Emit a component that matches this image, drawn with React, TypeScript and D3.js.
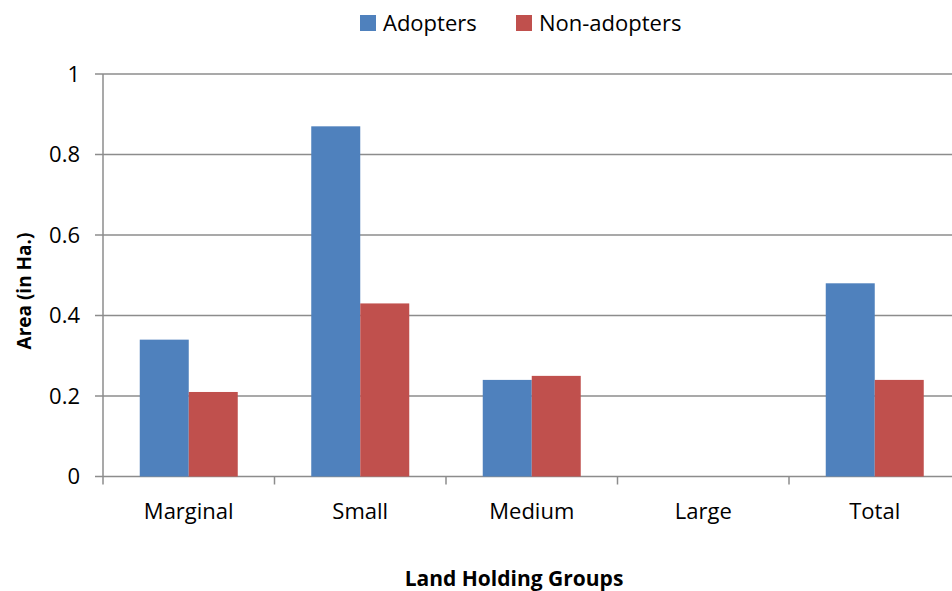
import React from "react";
import * as d3 from "d3";

const categories = ["Marginal", "Small", "Medium", "Large", "Total"];
const adopters = [0.34, 0.87, 0.24, 0, 0.48];
const nonAdopters = [0.21, 0.43, 0.25, 0, 0.24];
const yTicks = [0, 0.2, 0.4, 0.6, 0.8, 1];
const seriesNames = ["Adopters", "Non-adopters"];
const colors = ["#4F81BD", "#C0504D"];

export default function App() {
  const W = 952, H = 591;
  const left = 103, right = 960.5, top = 74, bottom = 476.5;
  const x = d3.scaleBand<string>().domain(categories).range([left, right]).paddingInner(0).paddingOuter(0);
  const y = d3.scaleLinear().domain([0, 1]).range([bottom, top]);
  const barW = 49;
  const font = "'Open Sans', sans-serif";
  const grid = "#8C8C8C";
  const series = [adopters, nonAdopters];
  return (
    <svg width={W} height={H} style={{ position: "absolute", left: 0, top: 0 }} fontFamily={font}>
      <rect width={W} height={H} fill="#fff" />
      {yTicks.map((t) => (
        <g key={t}>
          <line x1={left - 8} x2={right} y1={y(t)} y2={y(t)} stroke={grid} strokeWidth={1.5} />
          <text x={left - 23} y={y(t)} dy="0.36em" textAnchor="end" fontSize={22} fill="#000">{t}</text>
        </g>
      ))}
      <line x1={left} x2={left} y1={top} y2={bottom} stroke={grid} strokeWidth={1.5} />
      {categories.map((c, i) => {
        const cx = (x(c) as number) + x.bandwidth() / 2;
        return (
          <g key={c}>
            {series.map((s, j) => (
              <rect key={j} x={cx - barW + j * barW} width={barW} y={y(s[i])} height={bottom - y(s[i])} fill={colors[j]} />
            ))}
            <line x1={x(c) as number} x2={x(c) as number} y1={bottom} y2={bottom + 8} stroke={grid} strokeWidth={1.5} />
            <text x={cx} y={519} textAnchor="middle" fontSize={22} fill="#000">{c}</text>
          </g>
        );
      })}
      <text transform={`translate(31,291) rotate(-90)`} textAnchor="middle" fontSize={19} fontWeight="bold">Area (in Ha.)</text>
      <text x={514} y={586} textAnchor="middle" fontSize={21} fontWeight="bold">Land Holding Groups</text>
      {seriesNames.map((n, j) => {
        const lx = j === 0 ? 360 : 516;
        return (
          <g key={n}>
            <rect x={lx} y={15} width={16} height={16} fill={colors[j]} />
            <text x={lx + 23} y={23} dy="0.36em" fontSize={22}>{n}</text>
          </g>
        );
      })}
    </svg>
  );
}
